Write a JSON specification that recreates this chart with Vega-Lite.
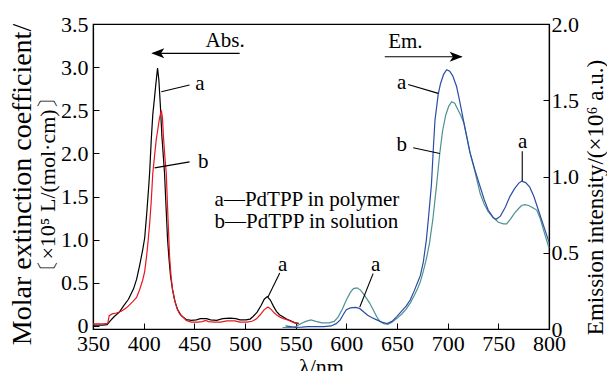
{
  "$schema": "https://vega.github.io/schema/vega-lite/v6.json",
  "width": 456,
  "height": 305,
  "autosize": "none",
  "padding": {"left": 93, "top": 24, "right": 58, "bottom": 42},
  "background": "white",
  "config": {
    "view": {"stroke": "black", "strokeWidth": 1.2},
    "font": "Liberation Serif",
    "axis": {
      "grid": false,
      "domainColor": "black",
      "domainWidth": 1.2,
      "tickColor": "black",
      "tickWidth": 1,
      "labelColor": "black",
      "titleColor": "black",
      "labelFont": "Liberation Serif",
      "titleFont": "Liberation Serif",
      "labelFontSize": 22,
      "titleFontSize": 22,
      "titleFontWeight": "normal"
    }
  },
  "title": {
    "text": "Molar extinction coefficient/",
    "subtitle": "〔×10⁵ L/(mol·cm)〕",
    "orient": "left",
    "anchor": "middle",
    "font": "Liberation Serif",
    "subtitleFont": "Liberation Serif",
    "fontSize": 28,
    "subtitleFontSize": 22,
    "fontWeight": "normal",
    "color": "black",
    "subtitleColor": "black",
    "subtitlePadding": 1,
    "offset": 2,
    "dx": -8
  },
  "datasets": {
    "abs": [
      {"c":"abs a","x":350,"y":0.01},{"c":"abs a","x":355,"y":0.01},{"c":"abs a","x":360,"y":0.01},{"c":"abs a","x":364,"y":0.015},
      {"c":"abs a","x":367,"y":0.06},{"c":"abs a","x":371,"y":0.11},{"c":"abs a","x":376,"y":0.16},{"c":"abs a","x":380,"y":0.23},
      {"c":"abs a","x":385,"y":0.31},{"c":"abs a","x":390,"y":0.43},{"c":"abs a","x":393,"y":0.54},{"c":"abs a","x":396,"y":0.70},
      {"c":"abs a","x":399,"y":0.88},{"c":"abs a","x":401,"y":1.02},{"c":"abs a","x":403,"y":1.30},{"c":"abs a","x":405,"y":1.62},
      {"c":"abs a","x":406,"y":1.80},{"c":"abs a","x":407.5,"y":2.16},{"c":"abs a","x":409,"y":2.45},{"c":"abs a","x":410.5,"y":2.62},
      {"c":"abs a","x":412,"y":2.80},{"c":"abs a","x":413.7,"y":2.99},{"c":"abs a","x":415,"y":2.85},{"c":"abs a","x":416.5,"y":2.55},
      {"c":"abs a","x":418,"y":2.20},{"c":"abs a","x":419.5,"y":1.95},{"c":"abs a","x":420.6,"y":1.77},{"c":"abs a","x":422,"y":1.40},
      {"c":"abs a","x":423.6,"y":1.00},{"c":"abs a","x":425,"y":0.78},{"c":"abs a","x":426.5,"y":0.58},{"c":"abs a","x":428.5,"y":0.42},
      {"c":"abs a","x":431,"y":0.28},{"c":"abs a","x":433.5,"y":0.19},{"c":"abs a","x":437,"y":0.12},{"c":"abs a","x":442,"y":0.075},
      {"c":"abs a","x":447,"y":0.065},{"c":"abs a","x":452,"y":0.07},{"c":"abs a","x":456,"y":0.085},{"c":"abs a","x":462,"y":0.085},
      {"c":"abs a","x":466,"y":0.07},{"c":"abs a","x":472,"y":0.065},{"c":"abs a","x":478,"y":0.085},{"c":"abs a","x":485,"y":0.09},
      {"c":"abs a","x":491,"y":0.085},{"c":"abs a","x":495,"y":0.07},{"c":"abs a","x":501,"y":0.07},{"c":"abs a","x":505,"y":0.08},
      {"c":"abs a","x":508,"y":0.11},{"c":"abs a","x":512,"y":0.16},{"c":"abs a","x":516,"y":0.24},{"c":"abs a","x":519,"y":0.31},
      {"c":"abs a","x":522,"y":0.34},{"c":"abs a","x":525,"y":0.30},{"c":"abs a","x":528,"y":0.23},{"c":"abs a","x":531,"y":0.17},
      {"c":"abs a","x":534,"y":0.13},{"c":"abs a","x":537,"y":0.11},{"c":"abs a","x":541,"y":0.08},{"c":"abs a","x":545,"y":0.06},
      {"c":"abs a","x":550,"y":0.035},{"c":"abs a","x":553,"y":0.03},
      {"c":"abs b","x":350,"y":0.025},{"c":"abs b","x":355,"y":0.025},{"c":"abs b","x":360,"y":0.025},{"c":"abs b","x":364.5,"y":0.03},
      {"c":"abs b","x":366,"y":0.12},{"c":"abs b","x":369,"y":0.14},{"c":"abs b","x":373,"y":0.15},{"c":"abs b","x":378,"y":0.17},
      {"c":"abs b","x":383,"y":0.21},{"c":"abs b","x":389,"y":0.28},{"c":"abs b","x":393,"y":0.33},{"c":"abs b","x":396,"y":0.42},
      {"c":"abs b","x":399,"y":0.53},{"c":"abs b","x":401,"y":0.63},{"c":"abs b","x":403,"y":0.82},{"c":"abs b","x":404.5,"y":1.00},
      {"c":"abs b","x":406,"y":1.20},{"c":"abs b","x":407.5,"y":1.45},{"c":"abs b","x":409,"y":1.77},{"c":"abs b","x":411,"y":2.00},
      {"c":"abs b","x":412.4,"y":2.16},{"c":"abs b","x":414,"y":2.28},{"c":"abs b","x":415.5,"y":2.40},{"c":"abs b","x":417.4,"y":2.50},
      {"c":"abs b","x":418.5,"y":2.42},{"c":"abs b","x":419.5,"y":2.20},{"c":"abs b","x":421,"y":1.95},{"c":"abs b","x":422.3,"y":1.77},
      {"c":"abs b","x":424,"y":1.25},{"c":"abs b","x":425.6,"y":0.80},{"c":"abs b","x":427,"y":0.58},{"c":"abs b","x":428.5,"y":0.42},
      {"c":"abs b","x":430.5,"y":0.30},{"c":"abs b","x":433,"y":0.20},{"c":"abs b","x":435.5,"y":0.14},{"c":"abs b","x":438.4,"y":0.11},
      {"c":"abs b","x":442,"y":0.065},{"c":"abs b","x":447,"y":0.045},{"c":"abs b","x":453,"y":0.045},{"c":"abs b","x":458,"y":0.05},
      {"c":"abs b","x":461,"y":0.065},{"c":"abs b","x":464,"y":0.05},{"c":"abs b","x":470,"y":0.045},{"c":"abs b","x":476,"y":0.045},
      {"c":"abs b","x":482,"y":0.06},{"c":"abs b","x":490,"y":0.06},{"c":"abs b","x":495,"y":0.045},{"c":"abs b","x":502,"y":0.045},
      {"c":"abs b","x":507,"y":0.055},{"c":"abs b","x":511,"y":0.08},{"c":"abs b","x":515,"y":0.13},{"c":"abs b","x":519,"y":0.19},
      {"c":"abs b","x":522.7,"y":0.22},{"c":"abs b","x":526,"y":0.19},{"c":"abs b","x":529,"y":0.15},{"c":"abs b","x":532,"y":0.12},
      {"c":"abs b","x":535,"y":0.10},{"c":"abs b","x":538,"y":0.085},{"c":"abs b","x":542,"y":0.07},{"c":"abs b","x":546,"y":0.05},
      {"c":"abs b","x":550,"y":0.03},{"c":"abs b","x":552,"y":0.02}
    ],
    "em": [
      {"c":"em b","x":537,"y":0.01},{"c":"em b","x":545,"y":0.01},{"c":"em b","x":550,"y":0.015},{"c":"em b","x":555,"y":0.035},
      {"c":"em b","x":560,"y":0.05},{"c":"em b","x":565,"y":0.06},{"c":"em b","x":570,"y":0.05},{"c":"em b","x":576,"y":0.04},
      {"c":"em b","x":583,"y":0.04},{"c":"em b","x":588,"y":0.05},{"c":"em b","x":592,"y":0.08},{"c":"em b","x":596,"y":0.13},
      {"c":"em b","x":600,"y":0.19},{"c":"em b","x":604,"y":0.24},{"c":"em b","x":607,"y":0.265},{"c":"em b","x":610.6,"y":0.27},
      {"c":"em b","x":614,"y":0.255},{"c":"em b","x":618,"y":0.22},{"c":"em b","x":623,"y":0.17},{"c":"em b","x":627,"y":0.12},
      {"c":"em b","x":630,"y":0.08},{"c":"em b","x":633,"y":0.05},{"c":"em b","x":637,"y":0.035},{"c":"em b","x":641,"y":0.03},
      {"c":"em b","x":645,"y":0.045},{"c":"em b","x":650,"y":0.07},{"c":"em b","x":655,"y":0.10},{"c":"em b","x":659,"y":0.13},
      {"c":"em b","x":663,"y":0.17},{"c":"em b","x":667,"y":0.22},{"c":"em b","x":670,"y":0.26},{"c":"em b","x":673,"y":0.31},
      {"c":"em b","x":676,"y":0.38},{"c":"em b","x":679,"y":0.46},{"c":"em b","x":682,"y":0.56},{"c":"em b","x":685.4,"y":0.72},
      {"c":"em b","x":689,"y":0.94},{"c":"em b","x":692.3,"y":1.157},{"c":"em b","x":695,"y":1.30},{"c":"em b","x":698,"y":1.40},
      {"c":"em b","x":701,"y":1.46},{"c":"em b","x":703.9,"y":1.49},{"c":"em b","x":707,"y":1.48},{"c":"em b","x":710,"y":1.44},
      {"c":"em b","x":713,"y":1.40},{"c":"em b","x":716,"y":1.35},{"c":"em b","x":719,"y":1.26},{"c":"em b","x":722,"y":1.16},
      {"c":"em b","x":727,"y":1.03},{"c":"em b","x":732,"y":0.89},{"c":"em b","x":736,"y":0.82},{"c":"em b","x":740,"y":0.77},
      {"c":"em b","x":745,"y":0.73},{"c":"em b","x":750,"y":0.70},{"c":"em b","x":755,"y":0.69},{"c":"em b","x":758.2,"y":0.69},
      {"c":"em b","x":762,"y":0.72},{"c":"em b","x":766,"y":0.76},{"c":"em b","x":770,"y":0.79},{"c":"em b","x":773,"y":0.81},
      {"c":"em b","x":776.3,"y":0.816},{"c":"em b","x":780,"y":0.81},{"c":"em b","x":784,"y":0.795},{"c":"em b","x":787.9,"y":0.78},
      {"c":"em b","x":791,"y":0.73},{"c":"em b","x":795,"y":0.64},{"c":"em b","x":800,"y":0.53},
      {"c":"em a","x":540,"y":0.02},{"c":"em a","x":545,"y":0.015},{"c":"em a","x":550,"y":0.01},{"c":"em a","x":556,"y":0.012},
      {"c":"em a","x":562,"y":0.015},{"c":"em a","x":570,"y":0.015},{"c":"em a","x":578,"y":0.015},{"c":"em a","x":585,"y":0.02},
      {"c":"em a","x":590,"y":0.035},{"c":"em a","x":594,"y":0.06},{"c":"em a","x":597,"y":0.095},{"c":"em a","x":600,"y":0.127},
      {"c":"em a","x":604,"y":0.138},{"c":"em a","x":609,"y":0.142},{"c":"em a","x":613,"y":0.135},{"c":"em a","x":617,"y":0.113},
      {"c":"em a","x":621,"y":0.09},{"c":"em a","x":625,"y":0.075},{"c":"em a","x":630,"y":0.06},{"c":"em a","x":635,"y":0.045},
      {"c":"em a","x":640,"y":0.035},{"c":"em a","x":645,"y":0.05},{"c":"em a","x":650,"y":0.083},{"c":"em a","x":655,"y":0.12},
      {"c":"em a","x":659,"y":0.15},{"c":"em a","x":663,"y":0.19},{"c":"em a","x":667,"y":0.25},{"c":"em a","x":670,"y":0.30},
      {"c":"em a","x":673,"y":0.35},{"c":"em a","x":676,"y":0.44},{"c":"em a","x":679,"y":0.586},{"c":"em a","x":681.5,"y":0.76},
      {"c":"em a","x":684,"y":0.95},{"c":"em a","x":686,"y":1.20},{"c":"em a","x":687.5,"y":1.37},{"c":"em a","x":690.7,"y":1.54},
      {"c":"em a","x":693,"y":1.61},{"c":"em a","x":696,"y":1.67},{"c":"em a","x":699,"y":1.70},{"c":"em a","x":702,"y":1.69},
      {"c":"em a","x":705,"y":1.66},{"c":"em a","x":708.8,"y":1.59},{"c":"em a","x":712,"y":1.49},{"c":"em a","x":715.4,"y":1.374},
      {"c":"em a","x":718.5,"y":1.27},{"c":"em a","x":722,"y":1.157},{"c":"em a","x":727,"y":1.04},{"c":"em a","x":731.9,"y":0.936},
      {"c":"em a","x":736,"y":0.85},{"c":"em a","x":740,"y":0.78},{"c":"em a","x":745,"y":0.73},{"c":"em a","x":748,"y":0.72},
      {"c":"em a","x":752,"y":0.74},{"c":"em a","x":757,"y":0.80},{"c":"em a","x":761.5,"y":0.87},{"c":"em a","x":766,"y":0.92},
      {"c":"em a","x":770,"y":0.955},{"c":"em a","x":773,"y":0.97},{"c":"em a","x":777,"y":0.96},{"c":"em a","x":781,"y":0.93},
      {"c":"em a","x":785,"y":0.87},{"c":"em a","x":789.5,"y":0.78},{"c":"em a","x":793,"y":0.71},{"c":"em a","x":796.5,"y":0.64},
      {"c":"em a","x":800,"y":0.57}
    ],
    "absLines": [
      {"g":"L1","x":417.4,"y":2.715},{"g":"L1","x":445.3,"y":2.793},
      {"g":"L2","x":410.8,"y":1.832},{"g":"L2","x":445.3,"y":1.902},
      {"g":"L3","x":522.7,"y":0.336},{"g":"L3","x":534.3,"y":0.613},
      {"g":"AR","x":409,"y":3.16},{"g":"AR","x":494.7,"y":3.16}
    ],
    "absTip": [{"x":407.5,"y":3.16}],
    "absLabels": [
      {"t":"a","x":455.6,"y":2.735},
      {"t":"b","x":458.7,"y":1.832},
      {"t":"a","x":537.2,"y":0.632},
      {"t":"Abs.","x":480.4,"y":3.236}
    ],
    "legend": [
      {"t":"a—PdTPP in polymer","x":470,"y":1.392},
      {"t":"b—PdTPP in solution","x":470,"y":1.138}
    ],
    "emLines": [
      {"g":"E1","x":613.3,"y":0.144},{"g":"E1","x":626.4,"y":0.363},
      {"g":"E2","x":661,"y":1.603},{"g":"E2","x":690.7,"y":1.545},
      {"g":"E3","x":666,"y":1.188},{"g":"E3","x":692.3,"y":1.151},
      {"g":"E4","x":773.6,"y":1.165},{"g":"E4","x":773.6,"y":0.97},
      {"g":"EA","x":637.9,"y":1.785},{"g":"EA","x":713.5,"y":1.785}
    ],
    "emTip": [{"x":714.8,"y":1.785}],
    "emLabels": [
      {"t":"a","x":628.9,"y":0.378},
      {"t":"a","x":654.5,"y":1.571},
      {"t":"b","x":654.6,"y":1.166},
      {"t":"a","x":773.9,"y":1.188},
      {"t":"Em.","x":658.3,"y":1.844}
    ]
  },
  "encoding": {
    "x": {"field": "x", "type": "quantitative",
      "scale": {"domain": [350, 800], "nice": false, "zero": false},
      "axis": {"orient": "bottom", "values": [350,400,450,500,550,600,650,700,750,800],
        "tickSize": -6, "labelPadding": 10, "labelFlush": false, "title": "λ/nm", "titlePadding": 2}}
  },
  "layer": [
    {
      "encoding": {
        "y": {"field": "y", "type": "quantitative",
          "scale": {"domain": [-0.035, 3.5], "nice": false, "zero": false},
          "axis": {"orient": "left", "values": [0,0.5,1,1.5,2,2.5,3,3.5],
            "labelExpr": "datum.value == 0 ? '0' : format(datum.value, '.1f')",
            "tickSize": -6, "labelPadding": 11, "labelFlush": false, "title": null}}
      },
      "layer": [
        {
          "data": {"name": "abs"},
          "mark": {"type": "line", "strokeWidth": 1.2, "interpolate": "linear"},
          "encoding": {
            "color": {"field": "c", "type": "nominal",
              "scale": {"domain": ["abs a","abs b","em a","em b"], "range": ["#000000","#e8161e","#2a4ea6","#4e9191"]},
              "legend": null},
            "order": {"field": "x", "type": "quantitative"}
          }
        },
        {
          "data": {"name": "absLines"},
          "mark": {"type": "line", "color": "black", "strokeWidth": 1.1},
          "encoding": {"detail": {"field": "g"}}
        },
        {
          "data": {"name": "absTip"},
          "mark": {"type": "point", "shape": "M0,0L2,-0.77L1.5,0L2,0.77Z", "size": 169, "filled": true, "color": "black", "opacity": 1},
          "encoding": {}
        },
        {
          "data": {"name": "absLabels"},
          "mark": {"type": "text", "font": "Liberation Serif", "fontSize": 21, "align": "center", "baseline": "alphabetic", "color": "black"},
          "encoding": {"text": {"field": "t"}}
        },
        {
          "data": {"name": "legend"},
          "mark": {"type": "text", "font": "Liberation Serif", "fontSize": 21, "align": "left", "baseline": "alphabetic", "color": "black"},
          "encoding": {"text": {"field": "t"}}
        }
      ]
    },
    {
      "encoding": {
        "y": {"field": "y", "type": "quantitative",
          "scale": {"domain": [0, 2], "nice": false},
          "axis": {"orient": "right", "values": [0,0.5,1,1.5,2],
            "labelExpr": "datum.value == 0 ? '0' : format(datum.value, '.1f')",
            "tickSize": -6, "labelPadding": 8, "labelFlush": false,
            "title": "Emission intensity/(×10⁶ a.u.)", "titleFontSize": 23,
            "titleAngle": 270, "titleX": 46, "titleY": 173, "titleAlign": "center", "titleBaseline": "middle"}}
      },
      "layer": [
        {
          "data": {"name": "em"},
          "mark": {"type": "line", "strokeWidth": 1.2},
          "encoding": {
            "color": {"field": "c", "type": "nominal", "legend": null},
            "order": {"field": "x", "type": "quantitative"}
          }
        },
        {
          "data": {"name": "emLines"},
          "mark": {"type": "line", "color": "black", "strokeWidth": 1.1},
          "encoding": {"detail": {"field": "g"}}
        },
        {
          "data": {"name": "emTip"},
          "mark": {"type": "point", "shape": "M0,0L-2,-0.77L-1.5,0L-2,0.77Z", "size": 169, "filled": true, "color": "black", "opacity": 1},
          "encoding": {}
        },
        {
          "data": {"name": "emLabels"},
          "mark": {"type": "text", "font": "Liberation Serif", "fontSize": 21, "align": "center", "baseline": "alphabetic", "color": "black"},
          "encoding": {"text": {"field": "t"}}
        }
      ]
    }
  ],
  "resolve": {"scale": {"y": "independent"}}
}
